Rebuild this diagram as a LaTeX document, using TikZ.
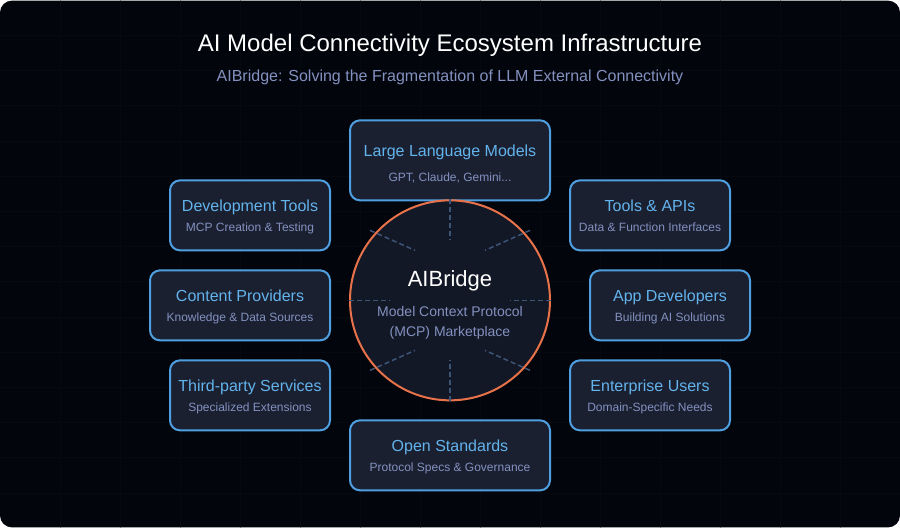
\documentclass[tikz,border=0pt]{standalone}
\usepackage{fontspec}
\setmainfont{Liberation Sans}
\definecolor{bgc}{HTML}{03050C}
\definecolor{gridc}{HTML}{06090F}
\definecolor{boxf}{HTML}{1A2030}
\definecolor{boxd}{HTML}{4F9FE0}
\definecolor{ttl}{HTML}{63B3ED}
\definecolor{subc}{HTML}{8391C0}
\definecolor{hubf}{HTML}{131826}
\definecolor{hubd}{HTML}{E8734A}
\definecolor{dashc}{HTML}{3D5578}
\newcommand{\fs}[1]{\fontsize{#1}{#1}\selectfont}
\tikzset{
  x=1pt,y=-1pt,
  card/.style={draw=boxd,fill=boxf,line width=2pt,rounded corners=10pt,inner sep=0pt},
  cardtitle/.style={text=ttl,font=\fs{16},inner sep=0pt,anchor=base},
  cardsub/.style={text=subc,font=\fs{12},inner sep=0pt,anchor=base},
  spoke/.style={draw=dashc,line width=1.5pt,dash pattern=on 5pt off 3pt},
}
\begin{document}
\begin{tikzpicture}
\useasboundingbox (0,0) rectangle (900,528);
\fill[white] (0,0) rectangle (900,528);
\begin{scope}
\clip[rounded corners=12pt] (0,0.6) rectangle (900,527.4);
\fill[bgc] (0,0) rectangle (900,528);
\foreach \g in {60,120,...,840} \draw[gridc,line width=0.6pt] (\g,0) -- (\g,528);
\foreach \g in {1,...,14} \draw[gridc,line width=0.6pt] (0,35.2*\g) -- (900,35.2*\g);
\end{scope}
\begin{scope}[yshift=-0.35pt]
\node[text=white,font=\fs{24},inner sep=0pt,anchor=base] (title) at (450,51) {AI Model Connectivity Ecosystem Infrastructure};
\node[text=subc,font=\fs{16},inner sep=0pt,anchor=base] (subtitle) at (450,81) {AIBridge: Solving the Fragmentation of LLM External Connectivity};
% cards
\node[card,minimum width=200pt,minimum height=80pt] (llm) at (450,160) {};
\node[card,minimum width=160pt,minimum height=70pt] (dev) at (250,215) {};
\node[card,minimum width=180pt,minimum height=70pt] (content) at (240,305) {};
\node[card,minimum width=160pt,minimum height=70pt] (third) at (250,395) {};
\node[card,minimum width=160pt,minimum height=70pt] (tools) at (650,215) {};
\node[card,minimum width=160pt,minimum height=70pt] (app) at (670,305) {};
\node[card,minimum width=160pt,minimum height=70pt] (ent) at (650,395) {};
\node[card,minimum width=200pt,minimum height=70pt] (open) at (450,455) {};
% hub
\node[circle,draw=hubd,fill=hubf,line width=2pt,minimum size=200pt,inner sep=0pt] (hub) at (450,300) {};
% spokes
\coordinate (s1) at (450,240);
\coordinate (s2) at (485,250);
\coordinate (s2o) at (530,230);
\coordinate (s3) at (510,300);
\coordinate (s4) at (485,350);
\coordinate (s4o) at (530,370);
\coordinate (s5) at (450,360);
\coordinate (s6) at (415,350);
\coordinate (s6o) at (370,370);
\coordinate (s7) at (390,300);
\coordinate (s8) at (415,250);
\coordinate (s8o) at (370,230);
\draw[spoke] (hub.north) -- (s1);
\draw[spoke] (s2o) -- (s2);
\draw[spoke] (hub.east) -- (s3);
\draw[spoke] (s4o) -- (s4);
\draw[spoke] (hub.south) -- (s5);
\draw[spoke] (s6o) -- (s6);
\draw[spoke] (hub.west) -- (s7);
\draw[spoke] (s8o) -- (s8);
% hub text
\node[text=white,font=\fs{22},inner sep=0pt,anchor=base] (hubt) at (450,286) {AIBridge};
\node[text=subc,font=\fs{14},inner sep=0pt,anchor=base] (hubs1) at (450,316) {Model Context Protocol};
\node[text=subc,font=\fs{14},inner sep=0pt,anchor=base] (hubs2) at (450,336) {(MCP) Marketplace};
% card text
\node[cardtitle] (llmt) at (450,156) {Large Language Models};
\node[cardsub] (llms) at (450,181) {GPT, Claude, Gemini...};
\node[cardtitle] (devt) at (250,211) {Development Tools};
\node[cardsub] (devs) at (250,231) {MCP Creation \& Testing};
\node[cardtitle] (cont) at (240,301) {Content Providers};
\node[cardsub] (cons) at (240,321) {Knowledge \& Data Sources};
\node[cardtitle] (thit) at (250,391) {Third-party Services};
\node[cardsub] (this) at (250,411) {Specialized Extensions};
\node[cardtitle] (toot) at (650,211) {Tools \& APIs};
\node[cardsub] (toos) at (650,231) {Data \& Function Interfaces};
\node[cardtitle] (appt) at (670,301) {App Developers};
\node[cardsub] (apps) at (670,321) {Building AI Solutions};
\node[cardtitle] (entt) at (650,391) {Enterprise Users};
\node[cardsub] (ents) at (650,411) {Domain-Specific Needs};
\node[cardtitle] (opent) at (450,451) {Open Standards};
\node[cardsub] (opens) at (450,471) {Protocol Specs \& Governance};
\end{scope}
\end{tikzpicture}
\end{document}
